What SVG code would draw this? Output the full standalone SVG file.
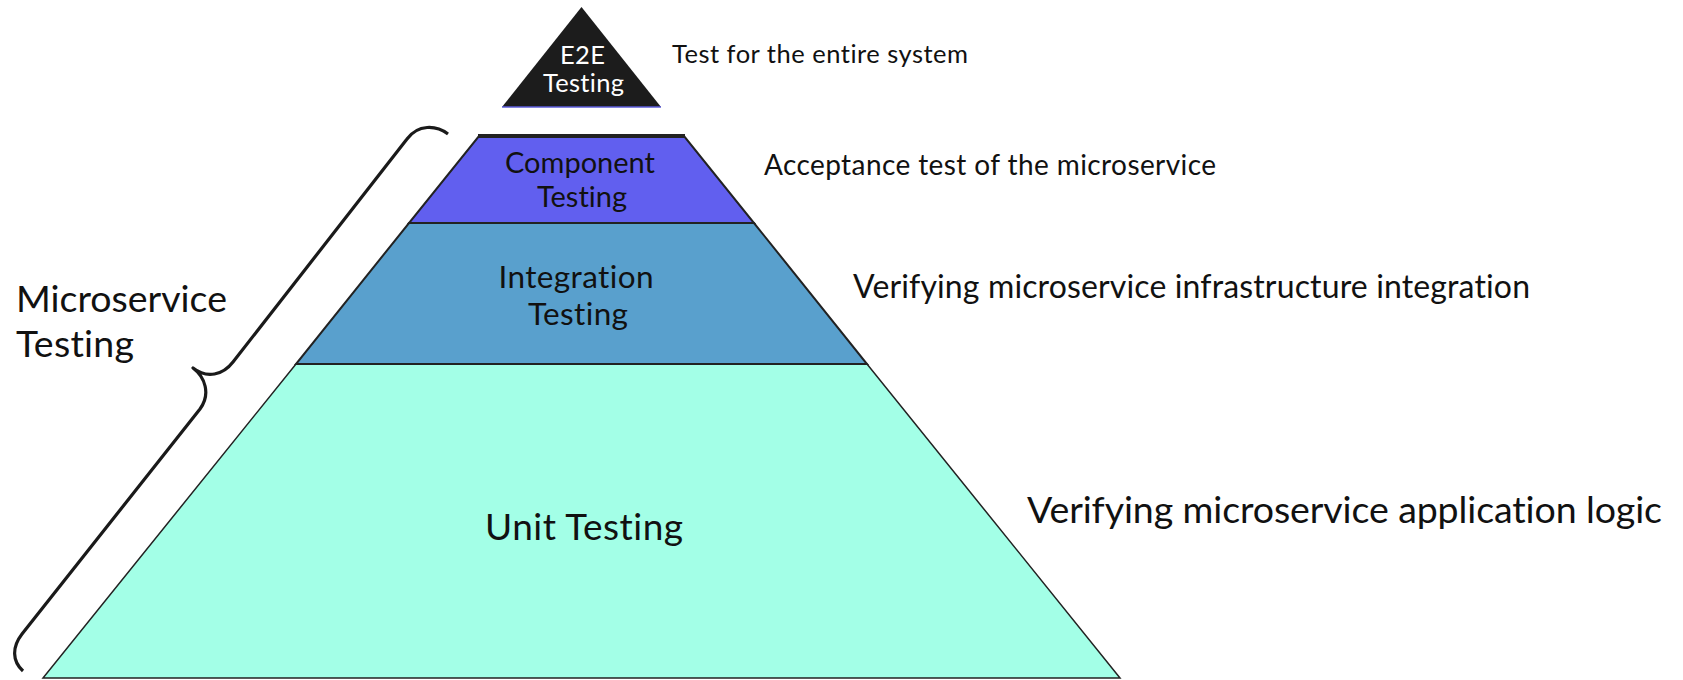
<svg xmlns="http://www.w3.org/2000/svg" width="1683" height="680" viewBox="0 0 1683 680">
  <style>
    text { font-family: Lato, "Open Sans", "Liberation Sans", sans-serif; fill: #111; font-variant-ligatures: none; }
    .mid { text-anchor: middle; }
    .edge { stroke: #222; stroke-width: 2; stroke-linejoin: miter; }
    .brace { fill: none; stroke: #1a1a1a; stroke-width: 3.2; stroke-linecap: butt; stroke-linejoin: round; }
  </style>
  <rect width="1683" height="680" fill="#ffffff"/>

  <!-- pyramid levels, bottom to top -->
  <g id="unit-testing">
    <polygon points="296,364 867,364 1120,678 43,678" fill="#a3ffe7" stroke="#222" stroke-width="1.5"/>
    <text class="mid" x="584" y="540" font-size="37" textLength="198" lengthAdjust="spacing">Unit Testing</text>
  </g>

  <g id="integration-testing">
    <polygon class="edge" points="409,223 754,223 867,364 296,364" fill="#59a0cd"/>
    <text class="mid" x="576" y="288" font-size="31.5" textLength="155" lengthAdjust="spacing">Integration</text>
    <text class="mid" x="578" y="325" font-size="31.5" textLength="100" lengthAdjust="spacing">Testing</text>
  </g>

  <g id="component-testing">
    <polygon class="edge" points="479,136 684,136 754,223 409,223" fill="#615fef"/>
    <line x1="478" y1="136" x2="685" y2="136" stroke="#222" stroke-width="4"/>
    <text class="mid" x="580" y="173" font-size="29" textLength="150" lengthAdjust="spacing">Component</text>
    <text class="mid" x="582" y="207" font-size="29" textLength="90" lengthAdjust="spacing">Testing</text>
  </g>

  <g id="e2e-testing">
    <polygon points="581.5,7 661,107 502,107" fill="#1c1c1c"/>
    <line x1="502" y1="107" x2="661" y2="107" stroke="#5b5bd9" stroke-width="1.5"/>
    <text class="mid" x="582.5" y="64" font-size="25.5" textLength="45" lengthAdjust="spacing" style="fill:#ffffff">E2E</text>
    <text class="mid" x="583.5" y="92" font-size="25.5" textLength="81" lengthAdjust="spacing" style="fill:#ffffff">Testing</text>
  </g>

  <!-- descriptions to the right of each level -->
  <g id="descriptions">
    <text x="672" y="63" font-size="25.5" textLength="296" lengthAdjust="spacing">Test for the entire system</text>
    <text x="764" y="175" font-size="28" textLength="452" lengthAdjust="spacing">Acceptance test of the microservice</text>
    <text x="853" y="298" font-size="32" textLength="677" lengthAdjust="spacing">Verifying microservice infrastructure integration</text>
    <text x="1027" y="523" font-size="37.5" textLength="635" lengthAdjust="spacing">Verifying microservice application logic</text>
  </g>

  <!-- brace grouping the lower three levels -->
  <g id="microservice-testing">
    <path class="brace" d="M 448,134 C 436,125 418,124 407,139 L 233,362 C 223,375 207,379 193,368 C 205,377 211,394 200,409 L 22,634 C 12,647 12,661 23,671"/>
    <text x="16" y="312" font-size="37.5" textLength="211" lengthAdjust="spacing">Microservice</text>
    <text x="16" y="357" font-size="37.5" textLength="118" lengthAdjust="spacing">Testing</text>
  </g>
</svg>
